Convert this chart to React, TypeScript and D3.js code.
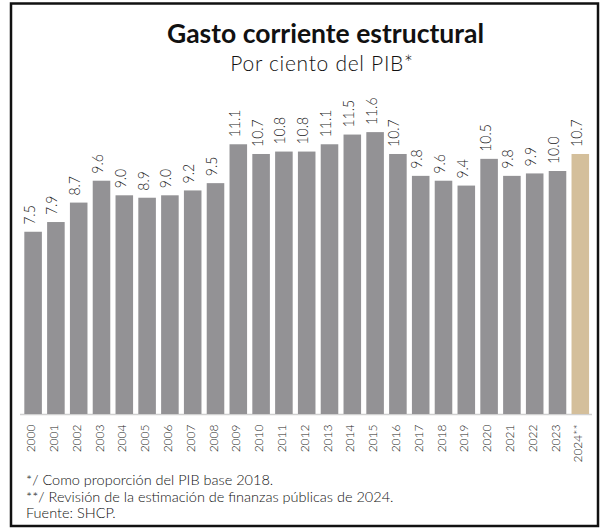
import React from "react";
import * as d3 from "d3";

const years = ["2000","2001","2002","2003","2004","2005","2006","2007","2008","2009","2010","2011","2012","2013","2014","2015","2016","2017","2018","2019","2020","2021","2022","2023","2024**"];
const values = [7.5,7.9,8.7,9.6,9.0,8.9,9.0,9.2,9.5,11.1,10.7,10.8,10.8,11.1,11.5,11.6,10.7,9.8,9.6,9.4,10.5,9.8,9.9,10.0,10.7];
const highlighted = ["2024**"];
const title = "Gasto corriente estructural";
const subtitle = "Por ciento del PIB*";
const notes = [
  "*/ Como proporción del PIB base 2018.",
  "**/ Revisión de la estimación de finanzas públicas de 2024.",
  "Fuente: SHCP.",
];

const W = 603, H = 529;
const baseY = 414;
const FONT = "Lato, 'Open Sans', sans-serif";

export default function App() {
  const x = d3.scaleBand<string>().domain(years).range([21.7, 591.7]).paddingInner(0.23).paddingOuter(0.115);
  const y = d3.scaleLinear().domain([0, 12]).range([baseY, baseY - 12 * 24.3]);
  return (
    <svg width={W} height={H} style={{ position: "absolute", left: 0, top: 0, background: "#fff" }} fontFamily={FONT}>
      <rect x={11} y={3.5} width={587} height={522.5} fill="#fff" stroke="#111" strokeWidth={2.5} />
      <text x={325.5} y={43} textAnchor="middle" fontSize={26.5} fontWeight={700} fill="#111">{title}</text>
      <text x={322} y={70.5} textAnchor="middle" fontSize={21} fontWeight={300} letterSpacing={0.7} fill="#111">{subtitle}</text>
      <line x1={20} x2={592} y1={baseY + 0.5} y2={baseY + 0.5} stroke="#d0d0d0" strokeWidth={1.5} />
      {years.map((yr, i) => {
        const bx = x(yr)!;
        const bw = x.bandwidth();
        const top = y(values[i]);
        const cx = bx + bw / 2;
        return (
          <g key={yr}>
            <rect x={bx} y={top} width={bw} height={baseY - top}
              fill={highlighted.includes(yr) ? "#d4bf9b" : "#939295"} />
            <text transform={`translate(${cx + 1.5},${top - 7}) rotate(-90) scale(1, 1.12)`} fontSize={14} fontWeight={300} fill="#1a1a1a">
              {values[i].toFixed(1)}
            </text>
            <text transform={`translate(${cx + 2},${baseY + 10.5}) rotate(-90)`} textAnchor="end" fontSize={12} fontWeight={300} fill="#1a1a1a">
              {yr}
            </text>
          </g>
        );
      })}
      {notes.map((n, i) => (
        <text key={i} x={26} y={485 + i * 16.5} fontSize={14.5} fontWeight={300} fill="#111">{n}</text>
      ))}
    </svg>
  );
}
